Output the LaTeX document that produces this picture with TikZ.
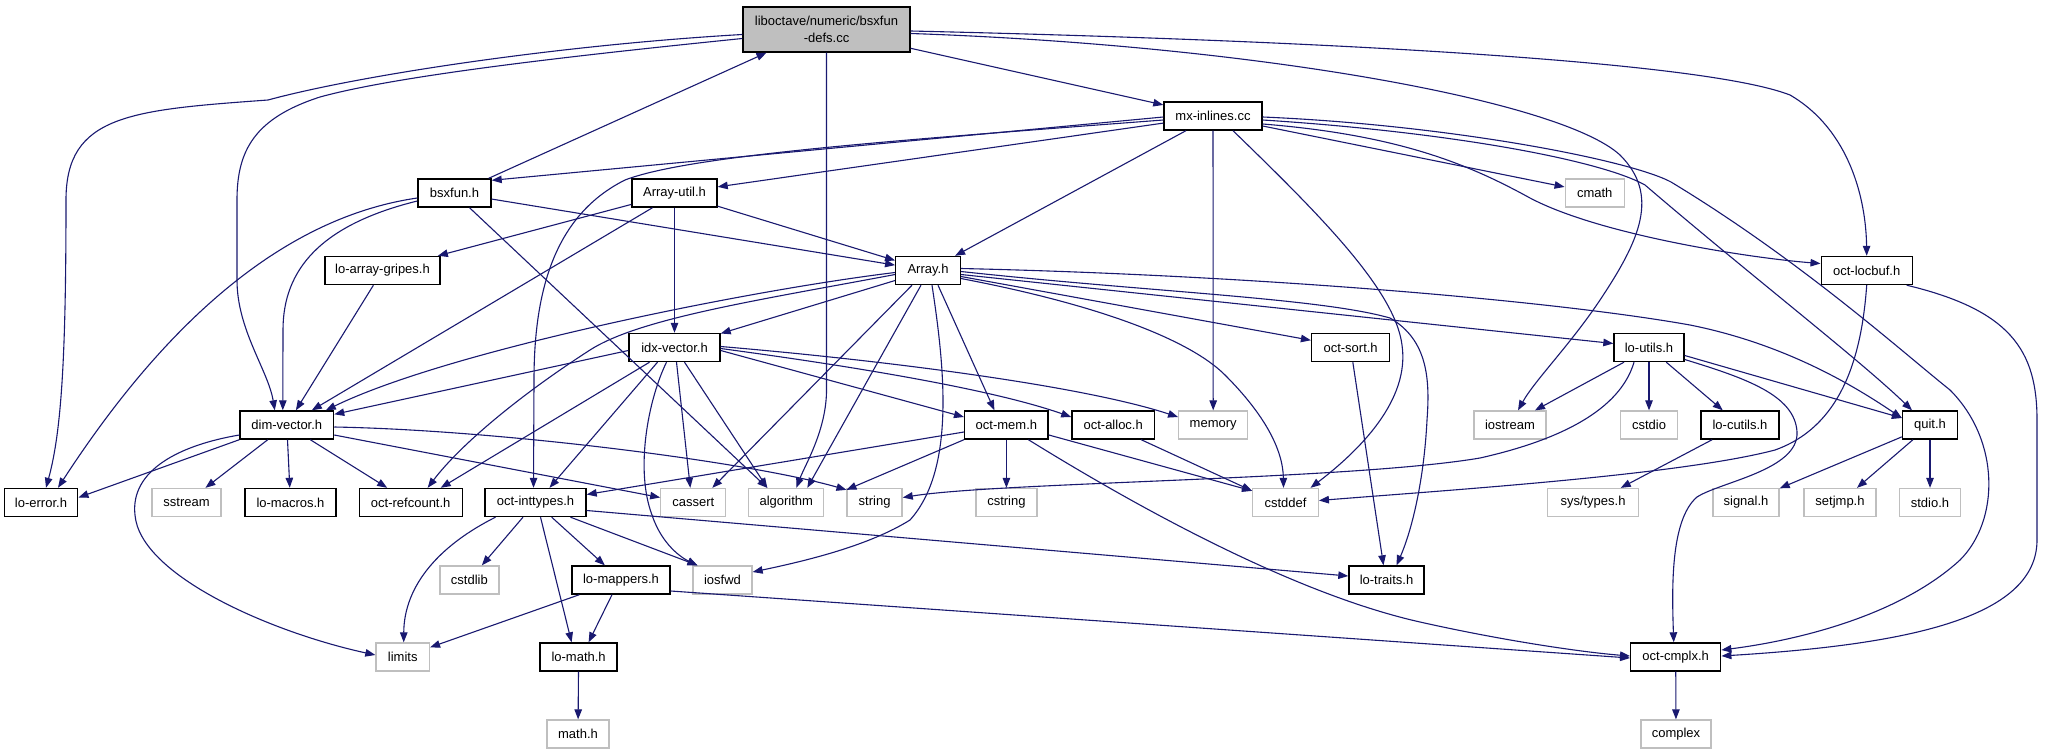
\documentclass[tikz,border=0pt]{standalone}
\usepackage{fontspec}
\setmainfont{Liberation Sans}
\usetikzlibrary{arrows.meta}
\definecolor{edgec}{HTML}{191970}
\definecolor{grayb}{HTML}{BFBFBF}
\tikzset{
  every node/.style={font=\fontsize{13}{16.5}\selectfont, inner sep=0pt, minimum height=28pt},
  nb/.style={draw=black, line width=1.4pt, fill=white},
  ng/.style={draw=grayb, line width=1.3pt, fill=white},
  rootbox/.style={draw=black, line width=1.4pt, fill=grayb, align=center, minimum height=45pt},
  dep/.style={draw=edgec, line width=1.1pt, -{Triangle[length=10pt,width=7.5pt]}}
}
\begin{document}
\begin{tikzpicture}[x=1pt,y=-1pt]
\fill[white] (0,0) rectangle (2055,755);
\useasboundingbox (0,0) rectangle (2055,755);
% row 0-1
\node[rootbox, minimum width=167] (root) at (826.5,29.5) {liboctave/numeric/bsxfun\\-defs.cc};
\node[nb, minimum width=98] (mx) at (1213,116) {mx-inlines.cc};
% row 2
\node[nb, minimum width=73] (bsxfun) at (454.5,193) {bsxfun.h};
\node[nb, minimum width=85] (arrayutil) at (674.5,193) {Array-util.h};
\node[ng, minimum width=59] (cmath) at (1594.7,193) {cmath};
% row 3
\node[nb, minimum width=115] (gripes) at (382.5,270.5) {lo-array-gripes.h};
\node[nb, minimum width=64.5] (array) at (928,270.5) {Array.h};
\node[nb, minimum width=91] (locbuf) at (1866.7,270.5) {oct-locbuf.h};
% row 4
\node[nb, minimum width=91] (idx) at (674.5,347.5) {idx-vector.h};
\node[nb, minimum width=78] (octsort) at (1350.6,347.5) {oct-sort.h};
\node[nb, minimum width=70] (loutils) at (1649,347.5) {lo-utils.h};
% row 5
\node[nb, minimum width=93.5] (dimvec) at (286.8,425) {dim-vector.h};
\node[nb, minimum width=83.5] (octmem) at (1006.4,425) {oct-mem.h};
\node[nb, minimum width=82.6] (octalloc) at (1113.2,425) {oct-alloc.h};
\node[ng, minimum width=69] (memory) at (1213.2,425) {memory};
\node[ng, minimum width=72] (iostream) at (1510,425) {iostream};
\node[ng, minimum width=57] (cstdio) at (1649,425) {cstdio};
\node[nb, minimum width=78] (locutils) at (1740,425) {lo-cutils.h};
\node[nb, minimum width=55] (quit) at (1930,425) {quit.h};
% row 6
\node[nb, minimum width=73.5] (loerror) at (41,502.5) {lo-error.h};
\node[ng, minimum width=69] (sstream) at (186.5,502.5) {sstream};
\node[nb, minimum width=91] (lomacros) at (290.5,502.5) {lo-macros.h};
\node[nb, minimum width=103] (refcount) at (410.7,502.5) {oct-refcount.h};
\node[nb, minimum width=101] (inttypes) at (535.5,502.5) {oct-inttypes.h};
\node[ng, minimum width=65] (cassert) at (693.3,502.5) {cassert};
\node[ng, minimum width=75] (algorithm) at (786.3,502.5) {algorithm};
\node[ng, minimum width=55] (string) at (874.6,502.5) {string};
\node[ng, minimum width=61] (cstring) at (1006.4,502.5) {cstring};
\node[ng, minimum width=65.6] (cstddef) at (1285.5,502.5) {cstddef};
\node[ng, minimum width=91] (systypes) at (1593,502.5) {sys/types.h};
\node[ng, minimum width=66] (signal) at (1746,502.5) {signal.h};
\node[ng, minimum width=72] (setjmp) at (1840,502.5) {setjmp.h};
\node[ng, minimum width=61] (stdio) at (1930,502.5) {stdio.h};
% row 7
\node[ng, minimum width=59] (cstdlib) at (469.4,580) {cstdlib};
\node[nb, minimum width=98] (lomappers) at (621,580) {lo-mappers.h};
\node[ng, minimum width=59] (iosfwd) at (722.5,580) {iosfwd};
\node[nb, minimum width=75] (lotraits) at (1386.5,580) {lo-traits.h};
% row 8-9
\node[ng, minimum width=53.5] (limits) at (402.7,657) {limits};
\node[nb, minimum width=77] (lomath) at (578.6,657) {lo-math.h};
\node[nb, minimum width=90] (cmplx) at (1675.7,657) {oct-cmplx.h};
\node[ng, minimum width=62] (mathh) at (578,734) {math.h};
\node[ng, minimum width=70] (complex) at (1676,734) {complex};

% ---- root edges
\draw[dep] ([yshift=-5pt]root.west) .. controls (560,45) and (360,75) .. (268,100) .. controls (130,110) and (66,115) .. (66,200) .. controls (66,350) and (62,430) .. ([xshift=5pt]loerror.north);
\draw[dep] ([yshift=-9pt]root.west) .. controls (580,55) and (400,75) .. (320,97) .. controls (255,118) and (237,150) .. (237,200) -- (237,280) .. controls (237,330) and (268,370) .. ([xshift=-12pt]dimvec.north);
\draw[dep] (root.south) -- (826.5,390) .. controls (826.5,430) and (805,465) .. ([xshift=10pt]algorithm.north);
\draw[dep] (root) -- (mx);
\draw[dep] ([yshift=-1.5pt]root.east) .. controls (1300,40) and (1700,60) .. (1790,95) .. controls (1850,130) and (1866,200) .. (locbuf.north);
\draw[dep] ([yshift=-4pt]root.east) .. controls (1250,45) and (1560,100) .. (1620,155) .. controls (1660,195) and (1640,240) .. (1600,300) .. controls (1570,345) and (1535,380) .. ([xshift=8pt]iostream.north);
\draw[dep] ([xshift=-3pt]bsxfun.north east) -- ([xshift=-60pt]root.south);

% ---- mx-inlines edges
\draw[dep] ([yshift=-1pt]mx.west) -- ([yshift=-2pt]bsxfun.north east);
\draw[dep] ([yshift=-4pt]mx.west) .. controls (900,140) and (690,155) .. (625,180) .. controls (555,215) and (534,290) .. (534,380) -- ([xshift=-2pt]inttypes.north);
\draw[dep] (mx) -- (arrayutil);
\draw[dep] (mx) -- (array);
\draw[dep] (mx) -- (memory);
\draw[dep] ([xshift=20pt]mx.south) .. controls (1320,215) and (1395,290) .. (1402,345) .. controls (1410,400) and (1360,450) .. ([xshift=25pt]cstddef.north);
\draw[dep] (mx) -- (cmath);
\draw[dep] ([yshift=-8pt]mx.east) .. controls (1400,135) and (1470,165) .. (1530,198) .. controls (1600,235) and (1750,258) .. ([yshift=7pt]locbuf.west);
\draw[dep] ([yshift=-4pt]mx.east) .. controls (1450,132) and (1600,160) .. (1645,185) .. controls (1750,275) and (1860,360) .. ([xshift=-18pt]quit.north);
\draw[dep] ([yshift=-1pt]mx.east) .. controls (1450,125) and (1630,160) .. (1671,182) .. controls (1800,260) and (1900,350) .. (1950,390) .. controls (2000,440) and (2000,520) .. (1960,560) .. controls (1900,615) and (1800,640) .. ([yshift=7pt]cmplx.east);

% ---- bsxfun.h edges
\draw[dep] ([yshift=-5pt]bsxfun.west) .. controls (300,215) and (180,300) .. ([xshift=17pt]loerror.north);
\draw[dep] ([yshift=-8pt]bsxfun.west) .. controls (320,225) and (283,270) .. (283,330) -- ([xshift=-4pt]dimvec.north);
\draw[dep] (bsxfun) -- (array);
\draw[dep] ([xshift=15pt]bsxfun.south) -- ([xshift=-19pt]algorithm.north);

% ---- Array-util.h edges
\draw[dep] (arrayutil) -- (gripes);
\draw[dep] ([xshift=-22pt]arrayutil.south) -- ([xshift=25pt]dimvec.north);
\draw[dep] (arrayutil) -- (idx);
\draw[dep] (arrayutil) -- (array);
\draw[dep] (gripes) -- (dimvec);

% ---- Array.h edges
\draw[dep] ([yshift=-2pt]array.west) .. controls (750,290) and (450,350) .. ([xshift=39pt]dimvec.north);
\draw[dep] ([yshift=-4pt]array.west) .. controls (760,300) and (640,318) .. (590,350) .. controls (520,395) and (460,445) .. ([xshift=17pt]refcount.north);
\draw[dep] (array) -- (idx);
\draw[dep] ([xshift=-16pt]array.south) -- ([xshift=19pt]cassert.north);
\draw[dep] ([xshift=-7pt]array.south) -- ([xshift=21pt]algorithm.north);
\draw[dep] ([xshift=4pt]array.south) .. controls (945,370) and (955,470) .. (910,520) .. controls (870,545) and (810,560) .. ([yshift=8pt]iosfwd.east);
\draw[dep] ([xshift=10pt]array.south) -- ([xshift=-12pt]octmem.north);
\draw[dep] (array) -- (octsort);
\draw[dep] ([yshift=-4pt]array.east) -- ([yshift=4pt]loutils.west);
\draw[dep] ([yshift=2pt]array.east) .. controls (1250,275) and (1550,300) .. (1690,325) .. controls (1790,345) and (1860,390) .. ([yshift=7pt]quit.west);
\draw[dep] ([yshift=-1pt]array.east) .. controls (1150,292) and (1320,298) .. (1390,318) .. controls (1428,340) and (1430,380) .. (1427,420) .. controls (1424,480) and (1412,530) .. ([xshift=10pt]lotraits.north);
\draw[dep] ([yshift=-8pt]array.east) .. controls (1100,305) and (1190,340) .. (1225,375) .. controls (1265,415) and (1283,450) .. ([xshift=-2pt]cstddef.north);

% ---- idx-vector.h edges
\draw[dep] ([yshift=-3pt]idx.west) -- ([yshift=-4pt]dimvec.north east);
\draw[dep] ([xshift=-25pt]idx.south) -- ([xshift=30pt]refcount.north);
\draw[dep] ([xshift=-17pt]idx.south) -- ([xshift=14pt]inttypes.north);
\draw[dep] ([xshift=-8pt]idx.south) .. controls (648,400) and (635,470) .. (652,515) .. controls (662,545) and (682,558) .. ([xshift=-25pt]iosfwd.north);
\draw[dep] ([xshift=2pt]idx.south) -- ([xshift=-3pt]cassert.north);
\draw[dep] ([xshift=10pt]idx.south) -- ([xshift=-19pt]algorithm.north);
\draw[dep] ([yshift=-3pt]idx.east) -- ([yshift=8pt]octmem.west);
\draw[dep] ([yshift=-1pt]idx.east) .. controls (880,370) and (1000,392) .. ([yshift=8pt]octalloc.west);
\draw[dep] ([yshift=1pt]idx.east) .. controls (880,360) and (1080,385) .. ([yshift=8pt]memory.west);

% ---- oct-mem.h / oct-alloc.h edges
\draw[dep] ([yshift=-7pt]octmem.west) -- ([yshift=8pt]inttypes.east);
\draw[dep] (octmem.south west) -- ([yshift=-2pt]string.north west);
\draw[dep] (octmem) -- (cstring);
\draw[dep] ([yshift=-10pt]octmem.east) -- ([yshift=-3pt]cstddef.north west);
\draw[dep] ([xshift=22pt]octmem.south) .. controls (1150,515) and (1300,595) .. (1420,622) .. controls (1500,640) and (1580,652) .. ([yshift=1pt]cmplx.west);
\draw[dep] ([xshift=28pt]octalloc.south) -- ([yshift=-3pt]cstddef.north west);

% ---- lo-utils.h edges
\draw[dep] ([xshift=-25pt]loutils.south) -- ([xshift=25pt]iostream.north);
\draw[dep] (loutils) -- (cstdio);
\draw[dep] (loutils) -- (locutils);
\draw[dep] ([xshift=-15pt]loutils.south) .. controls (1620,410) and (1560,440) .. (1480,458) .. controls (1350,480) and (1000,482) .. ([yshift=5pt]string.east);
\draw[dep] ([yshift=-8pt]loutils.east) -- ([yshift=7pt]quit.west);
\draw[dep] ([yshift=-12pt]loutils.east) .. controls (1745,378) and (1795,395) .. (1797,432) .. controls (1799,470) and (1720,482) .. (1697,497) .. controls (1670,520) and (1672,590) .. ([xshift=-2pt]cmplx.north);

% ---- oct-locbuf.h edges
\draw[dep] (locbuf.south) .. controls (1862,350) and (1845,425) .. (1775,450) .. controls (1680,475) and (1450,490) .. ([yshift=2pt]cstddef.east);
\draw[dep] ([xshift=40pt]locbuf.south) .. controls (2010,310) and (2037,350) .. (2037,420) -- (2037,540) .. controls (2037,620) and (1900,645) .. ([yshift=1pt]cmplx.east);

% ---- dim-vector.h edges
\draw[dep] (dimvec.south west) -- ([yshift=5pt]loerror.east);
\draw[dep] (dimvec) -- (sstream);
\draw[dep] (dimvec) -- (lomacros);
\draw[dep] (dimvec) -- (refcount);
\draw[dep] ([yshift=-10pt]dimvec.east) -- ([yshift=5pt]cassert.west);
\draw[dep] ([yshift=-2pt]dimvec.east) .. controls (500,430) and (750,462) .. ([yshift=-2pt]string.north west);
\draw[dep] ([yshift=-10pt]dimvec.west) .. controls (180,445) and (130,470) .. (135,515) .. controls (140,575) and (270,632) .. ([yshift=2pt]limits.west);

% ---- oct-inttypes.h edges
\draw[dep] ([xshift=-40pt]inttypes.south) .. controls (440,545) and (404,585) .. ([xshift=1pt]limits.north);
\draw[dep] (inttypes) -- (cstdlib);
\draw[dep] ([xshift=5pt]inttypes.south) -- ([xshift=-7pt]lomath.north);
\draw[dep] (inttypes) -- (lomappers);
\draw[dep] ([xshift=35pt]inttypes.south) -- ([xshift=-25pt]iosfwd.north);
\draw[dep] ([yshift=-8pt]inttypes.east) -- ([yshift=4pt]lotraits.west);

% ---- remaining
\draw[dep] (lomappers) -- (limits);
\draw[dep] ([xshift=-9pt]lomappers.south) -- ([xshift=10pt]lomath.north);
\draw[dep] ([yshift=-11pt]lomappers.east) -- ([yshift=-1pt]cmplx.west);
\draw[dep] (lomath) -- (mathh);
\draw[dep] (octsort) -- ([xshift=-3pt]lotraits.north);
\draw[dep] (locutils) -- (systypes);
\draw[dep] (quit) -- (signal);
\draw[dep] (quit) -- (setjmp);
\draw[dep] (quit) -- (stdio);
\draw[dep] (cmplx) -- (complex);
\end{tikzpicture}
\end{document}
